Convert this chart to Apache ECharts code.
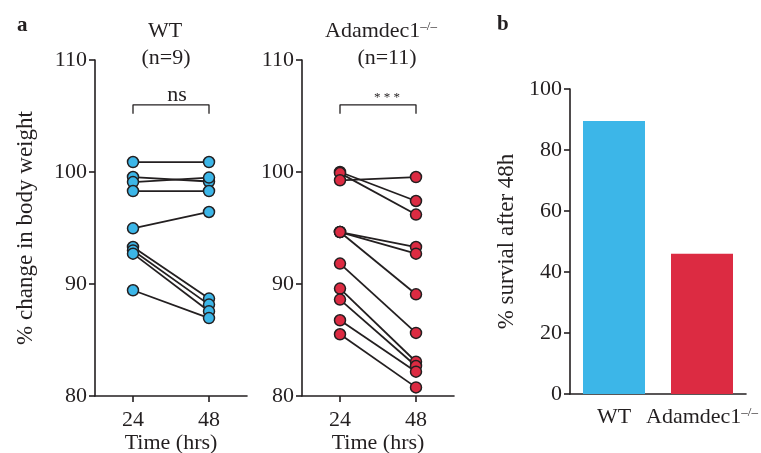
<!DOCTYPE html>
<html>
<head>
<meta charset="utf-8">
<script src="https://cdn.jsdelivr.net/npm/echarts@6/dist/echarts.min.js"></script>
<style>html,body{margin:0;padding:0;background:#fff;}#c{width:761px;height:453px;}</style>
</head>
<body>
<div id="c"></div>
<script>
// ---- data ----
var timeTicks = [24, 48];
var wt24 = [100.89, 99.55, 99.1, 98.3, 94.97, 93.3, 93.0, 92.71, 89.44];
var wt48 = [100.89, 99.15, 99.5, 98.3, 96.43, 88.7, 88.16, 87.56, 86.96];
var ko24 = [100.0, 99.9, 99.26, 94.64, 94.64, 94.64, 91.82, 89.59, 88.61, 86.76, 85.51];
var ko48 = [97.41, 96.2, 99.55, 93.3, 92.71, 89.08, 85.63, 83.06, 82.68, 82.17, 80.77];
var barCats = ['WT', 'Adamdec1'];
var survival = [89.5, 46];

var FONT = 'Liberation Serif';
var TXT = '#231f20';
var BLUE = '#3cb6e8';
var RED = '#dc2b42';
var FS = 22;

var chart = echarts.init(document.getElementById('c'), null, {renderer: 'canvas'});

function timeAxis(idx) {
  return {
    type: 'value', gridIndex: idx, min: 12, max: 60,
    name: 'Time (hrs)', nameLocation: 'middle', nameGap: 36, nameMoveOverlap: false,
    nameTextStyle: {fontFamily: FONT, fontSize: FS, color: TXT},
    axisLine: {lineStyle: {color: TXT, width: 1.6}},
    axisTick: {show: true, customValues: timeTicks, length: 6, lineStyle: {color: TXT, width: 1.6}},
    axisLabel: {customValues: timeTicks, margin: 13, fontFamily: FONT, fontSize: FS, color: TXT},
    splitLine: {show: false}
  };
}
function weightAxis(idx, withName) {
  return {
    type: 'value', gridIndex: idx, min: 80, max: 110, interval: 10,
    name: withName ? '% change in body weight' : '', nameLocation: 'middle', nameGap: 58,
    nameTextStyle: {fontFamily: FONT, fontSize: 23, color: TXT},
    axisLine: {show: true, lineStyle: {color: TXT, width: 1.6}},
    axisTick: {show: true, length: 6, lineStyle: {color: TXT, width: 1.6}},
    axisLabel: {margin: 8, fontFamily: FONT, fontSize: FS, color: TXT},
    splitLine: {show: false}
  };
}

var series = [];
function addGroup(a, b, gi, color) {
  for (var i = 0; i < a.length; i++) {
    series.push({
      type: 'line', xAxisIndex: gi, yAxisIndex: gi, symbol: 'none', silent: true,
      lineStyle: {color: TXT, width: 1.8}, z: 2,
      data: [[timeTicks[0], a[i]], [timeTicks[1], b[i]]]
    });
  }
  var pts = [];
  for (var j = 0; j < a.length; j++) { pts.push([timeTicks[0], a[j]]); pts.push([timeTicks[1], b[j]]); }
  series.push({
    type: 'scatter', xAxisIndex: gi, yAxisIndex: gi, symbolSize: 11, z: 5,
    itemStyle: {color: color, borderColor: TXT, borderWidth: 1.5, opacity: 1},
    data: pts
  });
}
addGroup(wt24, wt48, 0, BLUE);
addGroup(ko24, ko48, 1, RED);

// significance brackets (in data coords)
function bracket(gi) {
  series.push({
    type: 'line', xAxisIndex: gi, yAxisIndex: gi, symbol: 'none', silent: true,
    lineStyle: {color: TXT, width: 1.3}, z: 2,
    data: [[timeTicks[0], 105.2], [timeTicks[0], 106.0], [timeTicks[1], 106.0], [timeTicks[1], 105.2]]
  });
}
bracket(0); bracket(1);

series.push({
  type: 'bar', xAxisIndex: 2, yAxisIndex: 2, barWidth: 62,
  data: survival.map(function (v, i) { return {value: v, itemStyle: {color: i === 0 ? BLUE : RED}}; })
});

var richSup = {
  m: {fontFamily: FONT, fontSize: FS, fontWeight: 'normal', color: TXT},
  s: {fontFamily: FONT, fontSize: 13, fontWeight: 'normal', color: TXT, verticalAlign: 'top', padding: [0, 0, 9, 0]}
};
var plain = {fontFamily: FONT, fontSize: FS, fontWeight: 'normal', color: TXT};

var option = {
  animation: false,
  backgroundColor: '#fff',
  title: [
    {text: 'a', left: 12, top: 10, textStyle: {fontFamily: FONT, fontSize: 21, fontWeight: 'bold', color: TXT}},
    {text: 'b', left: 492, top: 9, textStyle: {fontFamily: FONT, fontSize: 21, fontWeight: 'bold', color: TXT}},
    {text: 'WT', left: 160, top: 15, textAlign: 'center', textStyle: plain},
    {text: '(n=9)', left: 161, top: 42, textAlign: 'center', textStyle: plain},
    {text: '{m|Adamdec1}{s|–/–}', left: 376, top: 15, textAlign: 'center', textStyle: {fontWeight: 'normal', rich: richSup}},
    {text: '(n=11)', left: 382, top: 42, textAlign: 'center', textStyle: plain},
    {text: 'ns', left: 172, top: 79, textAlign: 'center', textStyle: plain},
    {text: '* * *', left: 382, top: 86, textAlign: 'center', textStyle: {fontFamily: FONT, fontSize: 13, fontWeight: 'normal', color: TXT}}
  ],
  grid: [
    {left: 95, top: 60, width: 152, height: 336, outerBoundsMode: 'none', containLabel: false},
    {left: 302, top: 60, width: 152, height: 336, outerBoundsMode: 'none', containLabel: false},
    {left: 570, top: 89, width: 176, height: 305, outerBoundsMode: 'none', containLabel: false}
  ],
  xAxis: [
    timeAxis(0), timeAxis(1),
    {
      type: 'category', gridIndex: 2, data: barCats,
      axisLine: {lineStyle: {color: TXT, width: 1.6}},
      axisTick: {alignWithLabel: true, length: 6, lineStyle: {color: TXT, width: 1.6}},
      axisLabel: {
        margin: 12, interval: 0,
        formatter: function (v) { return v === 'WT' ? '{m|WT}' : '{m|' + v + '}{s|–/–}'; },
        rich: richSup
      }
    }
  ],
  yAxis: [
    weightAxis(0, true), weightAxis(1, false),
    {
      type: 'value', gridIndex: 2, min: 0, max: 100, interval: 20,
      name: '% survial after 48h', nameLocation: 'middle', nameGap: 52,
      nameTextStyle: {fontFamily: FONT, fontSize: 23, color: TXT},
      axisLine: {show: true, lineStyle: {color: TXT, width: 1.6}},
      axisTick: {show: true, length: 6, lineStyle: {color: TXT, width: 1.6}},
      axisLabel: {margin: 8, fontFamily: FONT, fontSize: FS, color: TXT},
      splitLine: {show: false}
    }
  ],
  series: series
};
chart.setOption(option);
</script>
</body>
</html>
